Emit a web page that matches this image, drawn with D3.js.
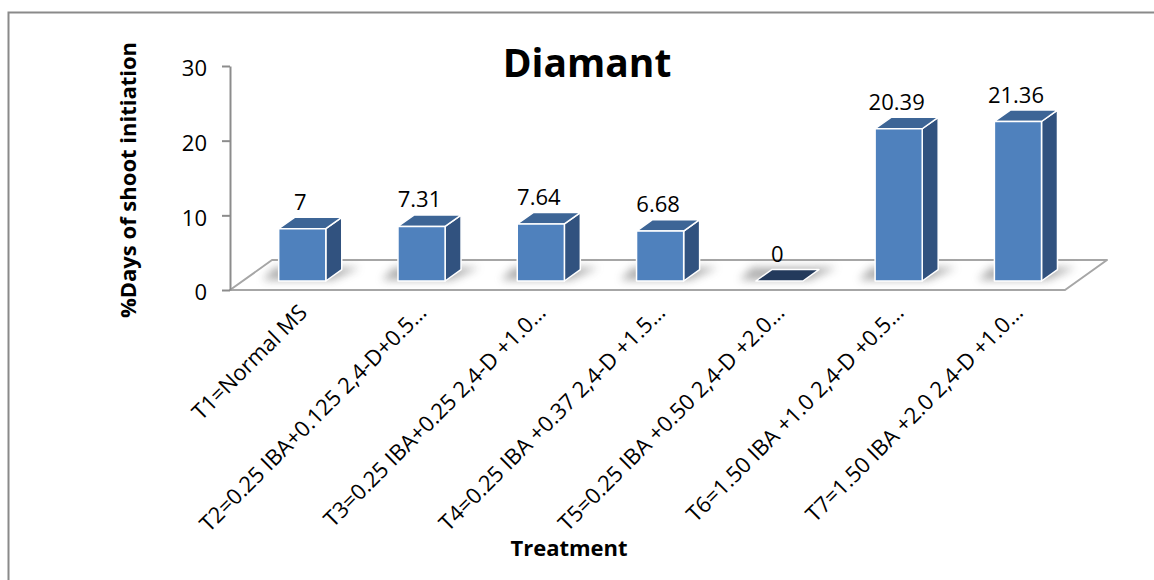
<!DOCTYPE html>
<html>
<head>
<meta charset="utf-8">
<script src="https://cdn.jsdelivr.net/npm/d3@7"></script>
<style>
  html, body { margin: 0; padding: 0; background: #fff; }
  svg { display: block; }
  text { font-family: "Open Sans", "Lato", sans-serif; fill: #000; }
</style>
</head>
<body>
<svg id="chart" width="1154" height="580"></svg>
<script>
// Treatment labels as shown on the category axis (long names shortened with an ellipsis)
const categories = [
  "T1=Normal MS",
  "T2=0.25 IBA+0.125 2,4-D+0.5…",
  "T3=0.25 IBA+0.25 2,4-D +1.0…",
  "T4=0.25 IBA +0.37 2,4-D +1.5…",
  "T5=0.25 IBA +0.50 2,4-D +2.0…",
  "T6=1.50 IBA +1.0 2,4-D +0.5…",
  "T7=1.50 IBA +2.0 2,4-D +1.0…"
];
// %Days of shoot initiation for the Diamant variety
const values = [7, 7.31, 7.64, 6.68, 0, 20.39, 21.36];
const yTicks = [0, 10, 20, 30];

const chartTitle = "Diamant";
const yTitle = "%Days of shoot initiation";
const xTitle = "Treatment";

const svg = d3.select("#chart");

// Plot frame (front plane of the 3-D floor)
const plot = { left: 230, right: 1065, top: 66, bottom: 290 };
// Oblique depth of the floor, and the slab of depth a bar occupies
const floorDepth = { dx: 42, dy: -30 };
const barFront = 0.30, barBack = 0.68;

const x = d3.scaleBand().domain(categories).range([plot.left, plot.right]).padding(0);
const y = d3.scaleLinear().domain([0, 30]).range([plot.bottom, plot.top]);

const colors = {
  front: "#4f81bd",
  side: "#31527f",
  top: "#3d6596",
  zero: "#233a5c",
  axis: "#8c8c8c",
  floor: "#a6a6a6"
};

// Outer chart border
svg.append("rect")
  .attr("x", 8.5).attr("y", 12.5)
  .attr("width", 1200).attr("height", 700)
  .attr("fill", "none").attr("stroke", "#8a8a8a").attr("stroke-width", 2);

const defs = svg.append("defs");
defs.append("filter").attr("id", "soft").attr("x", "-50%").attr("y", "-100%")
  .attr("width", "200%").attr("height", "300%")
  .append("feGaussianBlur").attr("stdDeviation", 4);

// Floor
const y0 = y(0);
const floorPts = [
  [plot.left, y0],
  [plot.left + floorDepth.dx, y0 + floorDepth.dy],
  [plot.right + floorDepth.dx, y0 + floorDepth.dy],
  [plot.right, y0]
];
svg.append("polygon")
  .attr("points", floorPts.map(p => p.join(",")).join(" "))
  .attr("fill", "#fff")
  .attr("stroke", colors.floor).attr("stroke-width", 2)
  .attr("stroke-linejoin", "round");

// Y axis
const yAxis = d3.axisLeft(y).tickValues(yTicks).tickSize(8).tickSizeOuter(0).tickPadding(15);
const gy = svg.append("g").attr("transform", `translate(${plot.left},0)`).call(yAxis);
gy.select(".domain").attr("stroke", colors.axis).attr("stroke-width", 2);
gy.selectAll(".tick line").attr("stroke", colors.axis).attr("stroke-width", 2);
gy.selectAll(".tick text")
  .attr("font-family", "'Open Sans', sans-serif")
  .attr("font-size", 22).attr("dy", "0.45em").attr("fill", "#000");

// Bar geometry
const offX = floorDepth.dx * barFront, offY = floorDepth.dy * barFront;
const depX = floorDepth.dx * (barBack - barFront), depY = floorDepth.dy * (barBack - barFront);
const barW = x.bandwidth() * 0.395;

const bars = categories.map((c, i) => {
  const cx = x(c) + x.bandwidth() / 2 + offX;
  const x0 = cx - barW / 2;
  const yb = y(0) + offY;
  const yt = y(values[i]) + offY;
  return { c, v: values[i], cx, x0, x1: x0 + barW, yb, yt };
});

const pts = a => a.map(p => p.join(",")).join(" ");

// Soft contact shadows at bar bases
svg.append("g").selectAll("polygon").data(bars).join("polygon")
  .attr("points", d => pts([
    [d.x0 - 16, d.yb - 1],
    [d.x0 - 4, d.yb + depY - 2],
    [d.x1 + depX + 18, d.yb + depY - 2],
    [d.x1 + 6, d.yb - 1]
  ]))
  .attr("fill", "#6d6d6d").attr("opacity", 0.55)
  .attr("filter", "url(#soft)");

const gb = svg.append("g").attr("stroke", "#fff").attr("stroke-width", 1.5)
  .attr("stroke-linejoin", "round");

bars.forEach(d => {
  if (d.v > 0) {
    gb.append("polygon").attr("fill", colors.side).attr("points", pts([
      [d.x1, d.yt], [d.x1 + depX, d.yt + depY], [d.x1 + depX, d.yb + depY], [d.x1, d.yb]
    ]));
    gb.append("polygon").attr("fill", colors.top).attr("points", pts([
      [d.x0, d.yt], [d.x0 + depX, d.yt + depY], [d.x1 + depX, d.yt + depY], [d.x1, d.yt]
    ]));
    gb.append("rect").attr("fill", colors.front)
      .attr("x", d.x0).attr("y", d.yt).attr("width", barW).attr("height", d.yb - d.yt);
  } else {
    gb.append("polygon").attr("fill", colors.zero).attr("points", pts([
      [d.x0, d.yb], [d.x0 + depX, d.yb + depY], [d.x1 + depX, d.yb + depY], [d.x1, d.yb]
    ]));
  }
});

// Value labels
svg.append("g").selectAll("text").data(bars).join("text")
  .attr("x", d => d.cx - 2)
  .attr("y", d => d.yt - 19)
  .attr("text-anchor", "middle")
  .attr("font-size", 22)
  .text(d => d.v);

// Category labels, rotated 45 degrees
svg.append("g").selectAll("text").data(categories).join("text")
  .attr("transform", c => `translate(${x(c) + x.bandwidth() / 2 + 19},314) rotate(-45)`)
  .attr("text-anchor", "end")
  .attr("font-size", 22)
  .text(c => c);

// Titles
svg.append("text")
  .attr("x", 587).attr("y", 77)
  .attr("text-anchor", "middle")
  .attr("font-size", 39).attr("font-weight", "bold")
  .text(chartTitle);

svg.append("text")
  .attr("transform", "translate(136,180) rotate(-90)")
  .attr("text-anchor", "middle")
  .attr("font-size", 22).attr("font-weight", "bold")
  .text(yTitle);

svg.append("text")
  .attr("x", 569).attr("y", 556)
  .attr("text-anchor", "middle")
  .attr("font-size", 22).attr("font-weight", "bold")
  .text(xTitle);
</script>
</body>
</html>
